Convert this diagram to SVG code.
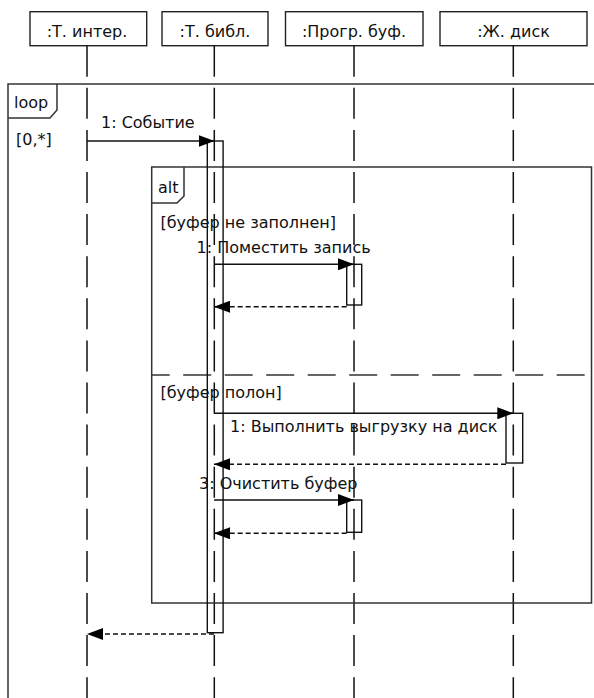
<svg xmlns="http://www.w3.org/2000/svg" width="594" height="698" viewBox="0 0 594 698">
<style>
text{font-family:"DejaVu Sans","Liberation Sans",sans-serif;font-size:16px;fill:#111}
.head{fill:#fff;stroke:#222;stroke-width:1.4}
.life{stroke:#111;stroke-width:1.5;stroke-dasharray:31 11.1;fill:none}
.frame{fill:none;stroke:#333;stroke-width:1.5}
.act{fill:none;stroke:#111;stroke-width:1.4}
.msg{stroke:#111;stroke-width:1.4;fill:none}
.ret{stroke:#111;stroke-width:1.4;fill:none;stroke-dasharray:5 3}
.mid{text-anchor:middle}
</style>
<defs>
<marker id="ah" markerWidth="16" markerHeight="12" refX="16" refY="6" orient="auto" markerUnits="userSpaceOnUse">
<path d="M0,0 L16,6 L0,12 z" fill="#000"/>
</marker>
</defs>
<rect width="594" height="698" fill="#fff"/>

<g id="lifeline-interface">
<rect class="head" x="30" y="11.7" width="116.7" height="34"/>
<text class="mid" x="87" y="36.5">:Т. интер.</text>
<line class="life" x1="87" y1="45.7" x2="87" y2="698"/>
</g>
<g id="lifeline-library">
<rect class="head" x="162" y="11.7" width="106" height="34"/>
<text class="mid" x="215" y="36.5">:Т. библ.</text>
<line class="life" x1="214.3" y1="45.7" x2="214.3" y2="698"/>
</g>
<g id="lifeline-buffer">
<rect class="head" x="285.5" y="11.7" width="137.5" height="34"/>
<text class="mid" x="354" y="36.5">:Прогр. буф.</text>
<line class="life" x1="354" y1="45.7" x2="354" y2="698"/>
</g>
<g id="lifeline-disk">
<rect class="head" x="440" y="11.7" width="147" height="34"/>
<text class="mid" x="513.5" y="36.5">:Ж. диск</text>
<line class="life" x1="513.3" y1="45.7" x2="513.3" y2="698"/>
</g>

<g id="frame-loop">
<rect class="frame" x="8" y="84" width="620" height="700"/>
<path class="frame" d="M8,118 H50 L57,110 V84"/>
<text x="14" y="108">loop</text>
<text x="16" y="145">[0,*]</text>
</g>

<g id="frame-alt">
<rect class="frame" x="151.7" y="167" width="439.8" height="436"/>
<path class="frame" d="M151.7,203 H177 L184,196 V167"/>
<text x="158" y="193">alt</text>
<line class="frame" x1="151.7" y1="375" x2="591.5" y2="375" stroke-dasharray="28 13.5" stroke-dashoffset="10"/>
<text x="160.5" y="228">[буфер не заполнен]</text>
<text x="160.5" y="398">[буфер полон]</text>
</g>

<g id="activations">
<rect class="act" x="207.3" y="141" width="15.8" height="491.7"/>
<rect class="act" x="346.7" y="264.3" width="15" height="40.7"/>
<rect class="act" x="506" y="413.3" width="16.7" height="49.7"/>
<rect class="act" x="346.7" y="500" width="15" height="32.3"/>
</g>

<g id="connectors">
<line class="msg" x1="87" y1="141" x2="214.5" y2="141" marker-end="url(#ah)"/>
<text x="101" y="128">1: Событие</text>

<line class="msg" x1="214" y1="264.3" x2="354" y2="264.3" marker-end="url(#ah)"/>
<text x="196.5" y="253">1: Поместить запись</text>
<line class="ret" x1="346.7" y1="306.7" x2="214" y2="306.7" marker-end="url(#ah)"/>

<line class="msg" x1="214" y1="413.3" x2="513.3" y2="413.3" marker-end="url(#ah)"/>
<text x="230" y="431.5">1: Выполнить выгрузку на диск</text>
<line class="ret" x1="506" y1="464.3" x2="214" y2="464.3" marker-end="url(#ah)"/>

<line class="msg" x1="214" y1="500" x2="354" y2="500" marker-end="url(#ah)"/>
<text x="199" y="489">3: Очистить буфер</text>
<line class="ret" x1="346.7" y1="533.3" x2="214" y2="533.3" marker-end="url(#ah)"/>

<line class="ret" x1="214" y1="634" x2="87" y2="634" marker-end="url(#ah)"/>
</g>
</svg>
